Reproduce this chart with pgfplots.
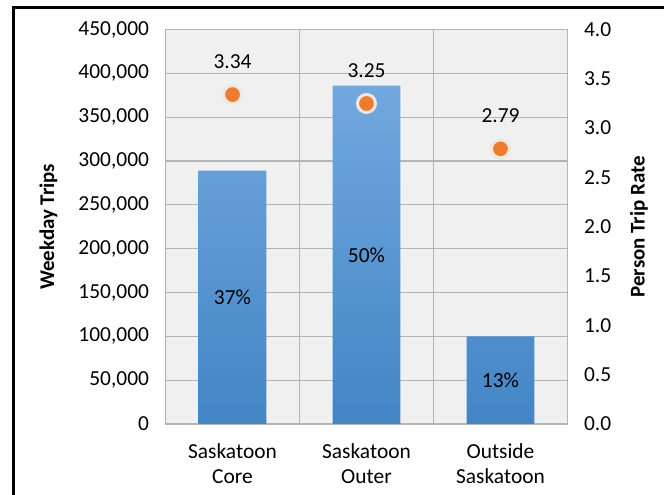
\documentclass[border=0pt]{standalone}
\usepackage{fontspec}
\setmainfont{Carlito}
\usepackage{pgfplots}
\pgfplotsset{compat=1.18}
\definecolor{bgc}{HTML}{F0F0F0}
\definecolor{gridc}{HTML}{B4B4B4}
\definecolor{bartop}{HTML}{71A8DE}
\definecolor{barbot}{HTML}{4385C5}
\definecolor{dotc}{HTML}{EE7B2E}
\definecolor{haloc}{HTML}{EDE8E3}
\begin{document}
\begin{tikzpicture}
\path[use as bounding box] (0,0) rectangle (664bp,495bp);
\draw[line width=2.6bp] (13.3bp,-5bp) -- (13.3bp,487.3bp) -- (670bp,487.3bp);
\begin{axis}[
  at={(165.5bp,71bp)}, anchor=south west,
  scale only axis, width=402bp, height=394.5bp,
  xmin=-0.5, xmax=2.5, ymin=0, ymax=450000,
  xtick={0,1,2},
  xticklabels={Saskatoon\\Core, Saskatoon\\Outer, Outside\\Saskatoon},
  minor xtick={0.5,1.5}, xminorgrids=true, ymajorgrids=true,
  ytick={0,50000,100000,150000,200000,250000,300000,350000,400000,450000},
  scaled y ticks=false,
  /pgf/number format/assume math mode=true,
  /pgf/number format/1000 sep={,},
  /pgf/number format/fixed,
  major tick length=0pt, minor tick length=0pt,
  axis line style={gridc, line width=1.2bp},
  grid style={gridc, line width=1.2bp},
  minor grid style={gridc, line width=1.2bp},
  axis background/.style={fill=bgc},
  tick label style={font=\fontsize{21.5}{25.5}\selectfont},
  xticklabel style={align=center, yshift=-16bp},
  yticklabel style={xshift=-13bp},
  every axis y label/.style={at={(rel axis cs:0,0.5)}, rotate=90, anchor=center, yshift=117bp, font=\fontsize{21}{24}\selectfont\bfseries},
  ylabel={Weekday Trips},
]
\addplot[ybar, bar width=0.504, draw=none, top color=bartop, bottom color=barbot, forget plot]
  coordinates {(0,289000) (1,386000) (2,100000)};
\addplot[draw=none, mark=none, forget plot, nodes near coords, point meta=explicit symbolic,
  every node near coord/.append style={anchor=center, font=\fontsize{21.5}{24}\selectfont, text=black}]
  coordinates {(0,144500)[37\%] (1,193000)[50\%] (2,50000)[13\%]};
\end{axis}
\begin{axis}[
  at={(165.5bp,71bp)}, anchor=south west,
  scale only axis, width=402bp, height=394.5bp,
  xmin=-0.5, xmax=2.5, ymin=0, ymax=4,
  hide x axis, axis y line*=right,
  ytick={0,0.5,1,1.5,2,2.5,3,3.5,4},
  /pgf/number format/assume math mode=true,
  /pgf/number format/fixed,
  /pgf/number format/fixed zerofill,
  /pgf/number format/precision=1,
  major tick length=0pt,
  axis line style={gridc, line width=1.2bp},
  tick label style={font=\fontsize{21.5}{25.5}\selectfont},
  yticklabel style={xshift=13bp},
  every axis y label/.style={at={(rel axis cs:1,0.5)}, rotate=90, anchor=center, yshift=-71.5bp, font=\fontsize{21}{24}\selectfont\bfseries},
  ylabel={Person Trip Rate},
]
\addplot[only marks, mark=*, mark size=9bp, mark options={fill=dotc, draw=haloc, line width=3bp},
  nodes near coords, point meta=explicit symbolic,
  every node near coord/.append style={anchor=center, yshift=33bp, font=\fontsize{21.5}{24}\selectfont, text=black}]
  coordinates {(0,3.34)[3.34] (1,3.25)[3.25] (2,2.79)[2.79]};
\end{axis}
\end{tikzpicture}
\end{document}
